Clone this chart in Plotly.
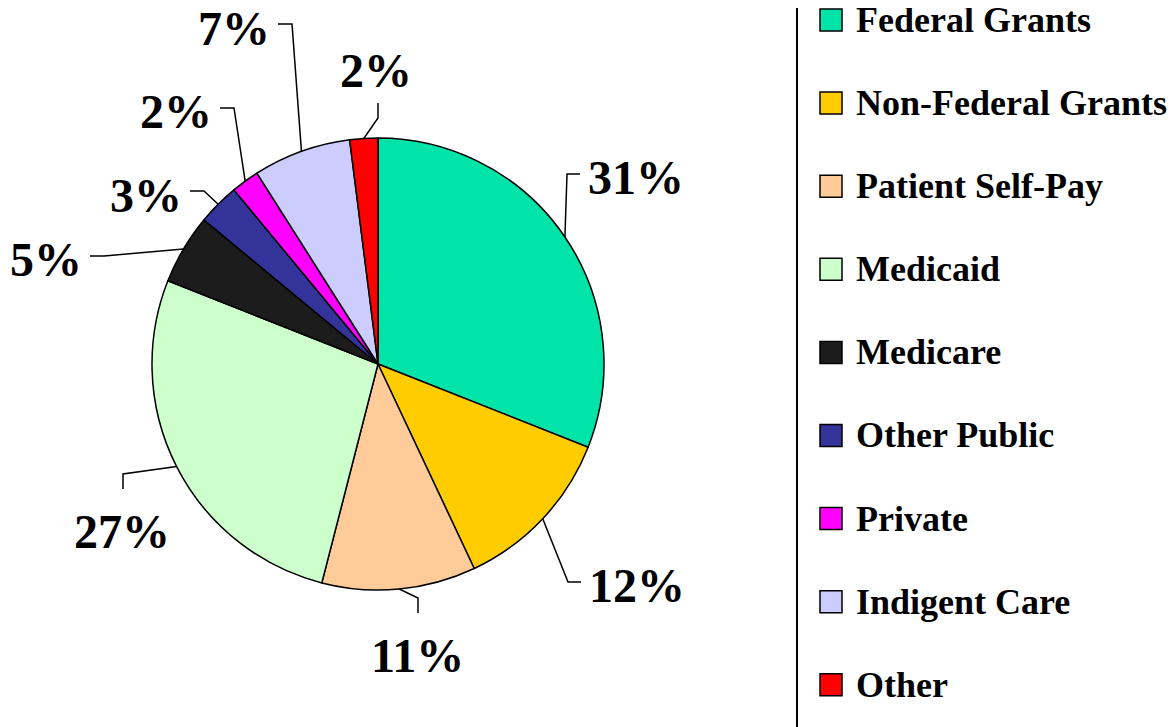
import math
import plotly.graph_objs as go

# data
sources = ["Federal Grants", "Non-Federal Grants", "Patient Self-Pay", "Medicaid",
           "Medicare", "Other Public", "Private", "Indigent Care", "Other"]
shares = [31, 12, 11, 27, 5, 3, 2, 7, 2]
colors = ["#00E3A9", "#FFCC00", "#FFCC99", "#CCFFCC", "#1C1C1C",
          "#333399", "#FF00FF", "#CCCCFF", "#FF0000"]

# layout, in window pixels (the page body adds an 8px margin)
W, H, OFF = 1176, 727, 8
FW, FH = W - OFF, H - OFF
CX, CY, R = 378, 364, 226
FONT = "Liberation Serif, Times New Roman, serif"
LABEL_SIZE = 48
# label centre offset from pie centre and the side the leader line joins
label_place = [(258, -187, "left"), (259, 221, "left"), (39, 291, "top"),
               (-256, 167, "top"), (-332, -104, "right"), (-232, -169, "right"),
               (-202, -252, "right"), (-144, -336, "right"), (-2, -294, "bottom")]


def px(x, y):
    return (x - OFF) / FW, 1 - (y - OFF) / FH


x0, y1 = px(CX - R, CY - R)
x1, y0 = px(CX + R, CY + R)
fig = go.Figure(go.Pie(labels=sources, values=shares, sort=False,
                       direction="clockwise", rotation=0,
                       marker=dict(colors=colors, line=dict(color="black", width=1.5)),
                       textinfo="none", showlegend=False,
                       domain=dict(x=[x0, x1], y=[y0, y1])))

shapes = []
annotations = []
total = sum(shares)
cum = 0
for v, (dx, dy, side) in zip(shares, label_place):
    theta = math.radians(360 * (cum + v / 2) / total)
    cum += v
    sx, sy = CX + R * math.sin(theta), CY - R * math.cos(theta)
    lx, ly = CX + dx, CY + dy
    text = f"{round(100 * v / total)}%"
    hw = LABEL_SIZE * (0.5 * (len(text) - 1) + 1) / 2
    if side == "left":
        ex, ey = lx - hw - 8, ly - 3
        bx, by = ex - 13, ey
    elif side == "right":
        ex, ey = lx + hw + 8, ly - 4
        bx, by = ex + 14, ey
    elif side == "top":
        ex, ey = lx + 1, ly - 42
        bx, by = ex, ey - 15
    else:
        ex, ey = lx + 2, ly + 33
        bx, by = ex, ey + 15
    pts = [px(sx, sy), px(bx, by), px(ex, ey)]
    path = "M " + " L ".join(f"{a:.5f},{b:.5f}" for a, b in pts)
    shapes.append(dict(type="path", xref="paper", yref="paper", path=path,
                       line=dict(color="black", width=1.5)))
    ax, ay = px(lx, ly)
    annotations.append(dict(x=ax, y=ay, xref="paper", yref="paper", text=text,
                            showarrow=False, xanchor="center", yanchor="middle",
                            font=dict(family=FONT, size=LABEL_SIZE, color="black",
                                      weight="bold")))

# legend
lx0, _ = px(797, 0)
shapes.append(dict(type="line", xref="paper", yref="paper", x0=lx0, x1=lx0,
                   y0=0, y1=1, line=dict(color="black", width=2)))
for i, (name, c) in enumerate(zip(sources, colors)):
    yc = 20 + i * 83.1
    ax0, ay0 = px(820, yc - 11)
    ax1, ay1 = px(842, yc + 11)
    shapes.append(dict(type="rect", xref="paper", yref="paper",
                       x0=ax0, x1=ax1, y0=ay0, y1=ay1, fillcolor=c,
                       line=dict(color="black", width=1.5)))
    tx, ty = px(854, yc)
    annotations.append(dict(x=tx, y=ty, xref="paper", yref="paper", text=name,
                            showarrow=False, xanchor="left", yanchor="middle",
                            font=dict(family=FONT, size=36, color="black",
                                      weight="bold")))

fig.update_layout(width=FW, height=FH, margin=dict(l=0, r=0, t=0, b=0),
                  paper_bgcolor="white", plot_bgcolor="white",
                  shapes=shapes, annotations=annotations)
fig.write_html("out.html")
